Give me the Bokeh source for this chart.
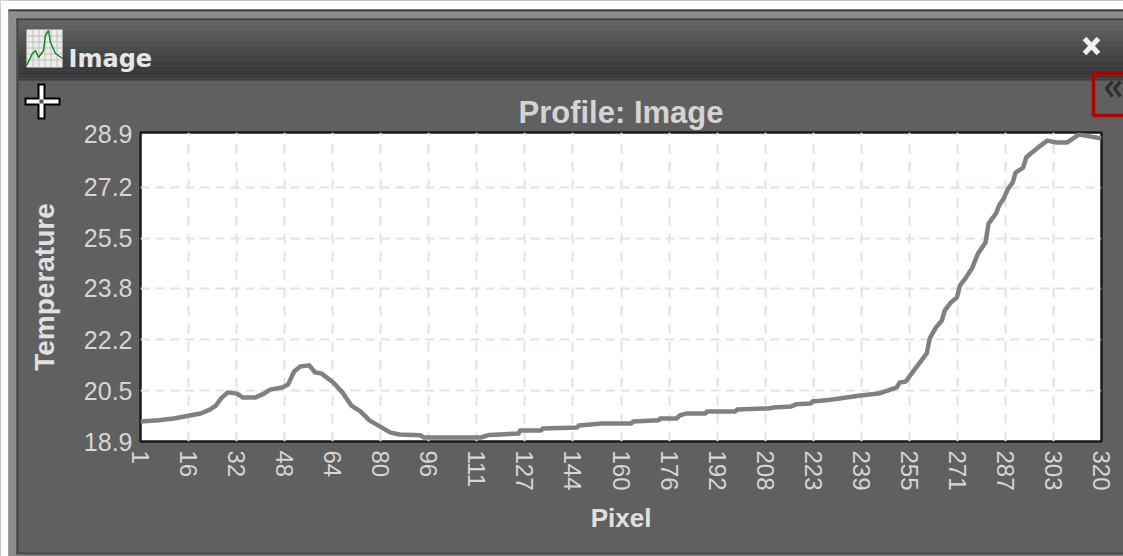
from bokeh.plotting import figure
from bokeh.embed import file_html
from bokeh.resources import INLINE
from bokeh.core.properties import value
from bokeh.models import FixedTicker, Range1d

# ---- data
pixel = [1, 7, 12, 16, 21, 24, 26, 28, 30, 33, 35, 39, 42, 44, 48, 50, 52, 54, 57, 59, 61, 65, 68, 71, 74, 77, 81, 84, 87, 94, 95,
         114, 116.5, 126.5, 127, 134, 134.5, 146, 146.5, 154, 164, 164.5, 173, 173.5, 179, 180, 182, 188.5, 189, 198.5, 199,
         210, 211, 217, 218.5, 223.5, 224, 228.5, 233, 240, 246, 249, 252, 253, 255, 257, 259, 262, 263, 265, 267, 268, 270,
         272, 273, 275, 277, 279, 281.5, 282.5, 285, 286, 287.5, 289, 290.5, 291.5, 294, 295, 296.5, 299, 302, 305, 308.5,
         310.5, 312.5, 316, 320]
temperature = [19.50, 19.54, 19.60, 19.67, 19.76, 19.89, 20.02, 20.28, 20.45, 20.41, 20.28, 20.28, 20.41, 20.54, 20.61, 20.71, 21.13,
               21.29, 21.33, 21.10, 21.07, 20.77, 20.45, 20.02, 19.83, 19.54, 19.31, 19.14, 19.08, 19.05, 18.98,
               18.98, 19.06, 19.11, 19.21, 19.21, 19.27, 19.31, 19.37, 19.44, 19.44, 19.50, 19.54, 19.60, 19.60, 19.70, 19.76, 19.76, 19.83, 19.83, 19.89,
               19.93, 19.96, 19.99, 20.06, 20.09, 20.15, 20.19, 20.25, 20.35, 20.41, 20.51, 20.61, 20.77, 20.80, 21.07, 21.33, 21.72, 22.21, 22.56, 22.79, 23.12, 23.38,
               23.54, 23.93, 24.19, 24.49, 24.97, 25.33, 25.95, 26.28, 26.54, 26.76, 27.09, 27.28, 27.61, 27.77, 28.10, 28.23, 28.43, 28.65, 28.59, 28.59,
               28.72, 28.85, 28.79, 28.72]
x_ticks = [1, 16.95, 32.9, 48.85, 64.8, 80.75, 96.7, 112.65, 128.6, 144.55, 160.5, 176.45, 192.4, 208.35, 224.3, 240.25, 256.2, 272.15, 288.1, 304.05, 320]
x_labels = ["1", "16", "32", "48", "64", "80", "96", "111", "127", "144", "160", "176", "192", "208", "223", "239", "255", "271", "287", "303", "320"]
y_ticks = [18.85, 20.51, 22.17, 23.84, 25.47, 27.13, 28.86]
y_labels = ["18.9", "20.5", "22.2", "23.8", "25.5", "27.2", "28.9"]
y_grid = [20.51, 22.17, 23.84, 25.47, 27.13]

W, H = 1123, 556

# ---- window chrome: a figure whose frame is the whole page, y running downward
win = figure(width=W, height=H, output_backend="svg", toolbar_location=None,
             x_range=Range1d(0, W), y_range=Range1d(H, 0),
             min_border=0, min_border_left=0, min_border_right=0, min_border_top=0, min_border_bottom=0)
win.axis.visible = False
win.grid.visible = False
win.outline_line_color = None
win.background_fill_color = "#606060"
win.border_fill_color = "#ffffff"


def box(l, t, r, b, fill, line=None, lw=0):
    win.quad(left=[l], right=[r], top=[t], bottom=[b], fill_color=fill,
             fill_alpha=1 if fill else 0, line_color=line, line_width=lw)


def path(pts, color, lw):
    win.line([a for a, _ in pts], [b for _, b in pts], line_color=color, line_width=lw)


box(0, 0, 1123, 9, "#ffffff")
box(0, 0, 8, 556, "#ffffff")
box(8, 9, 1123, 11, "#3a3a3a")
box(8, 11, 1123, 18, "#8c8c8c")
box(8, 11, 16, 556, "#8c8c8c")
box(16, 18, 18, 553, "#444444")
box(16, 18, 1123, 20, "#444444")
box(16, 552, 1123, 554, "#444444")
box(16, 554, 1123, 556, "#808080")

bands = ["#646464", "#5f5f5f", "#5a5a5a", "#555555", "#505050", "#4c4c4c", "#474747", "#434343", "#3f3f3f", "#3b3b3b", "#383838", "#353535"]
for i, c in enumerate(bands):
    box(18, 20 + i * 5, 1123, 25 + i * 5, c)
box(18, 77, 1123, 79, "#4a4a4a")

# title-bar icon
box(26, 29, 62, 67, "#ececec")
for gx in (32, 38, 44, 50, 56):
    box(gx, 29, gx + 1, 67, "#bdbdbd")
for gy in (35, 41, 47, 53, 59):
    box(26, gy, 62, gy + 1, "#bdbdbd")
path([(26, 65), (32, 53), (35, 50), (38, 57), (43, 50), (45, 35), (48, 30), (50, 42), (55, 53), (62, 58)], "#0d8a1c", 1.5)

win.text([68], [58], text=["Image"], text_font=value("DejaVu Sans"), text_font_style="bold",
         text_font_size="24px", text_color="#e6e6e6", text_baseline="alphabetic")

# close icon
path([(1084, 38), (1098, 53)], "#f0f0f0", 5)
path([(1098, 38), (1084, 53)], "#f0f0f0", 5)

# crosshair icon
box(37, 83, 45, 119, "#000000")
box(24, 97, 60, 105, "#000000")
box(39, 85, 43, 117, "#ffffff")
box(26, 99, 58, 103, "#ffffff")
box(39, 99, 43, 103, "#555555")

# collapse button
box(1093, 73, 1125, 115, None, "#b00000", 3.5)
path([(1112, 81), (1106, 88), (1112, 96)], "#2e2e2e", 3.5)
path([(1120, 81), (1114, 88), (1120, 96)], "#2e2e2e", 3.5)

# ---- the chart, laid over the chrome with a transparent border
p = figure(width=W, height=H, output_backend="svg", toolbar_location=None,
           x_range=Range1d(1, 320), y_range=Range1d(18.85, 28.916),
           min_border_left=140, min_border_right=22, min_border_top=132, min_border_bottom=115,
           title="Profile: Image", styles={"position": "absolute", "left": "0px", "top": "0px"})
p.border_fill_color = None
p.background_fill_color = "#ffffff"
p.outline_line_color = "#1a1a1a"
p.outline_line_width = 2.5

p.title.align = "center"
p.title.text_font = "Liberation Sans"
p.title.text_font_size = "31px"
p.title.text_font_style = "bold"
p.title.text_color = "#d4d4d4"
p.title.standoff = 6

for ax in (p.xaxis[0], p.yaxis[0]):
    ax.axis_line_color = None
    ax.major_tick_line_color = None
    ax.minor_tick_line_color = None
    ax.major_tick_out = 0
    ax.major_tick_in = 0
    ax.minor_tick_out = 0
    ax.major_label_text_font = "Liberation Sans"
    ax.major_label_text_color = "#d6d6d6"
    ax.axis_label_text_font = "Liberation Sans"
    ax.axis_label_text_font_style = "bold"
    ax.axis_label_text_color = "#e0e0e0"

p.xaxis[0].axis_label = "Pixel"
p.xaxis[0].axis_label_text_font_size = "26px"
p.xaxis[0].ticker = FixedTicker(ticks=x_ticks)
p.xaxis[0].major_label_overrides = dict(zip(x_ticks, x_labels))
p.xaxis[0].major_label_orientation = "vertical"
p.xaxis[0].major_label_text_font_size = "24px"
p.xaxis[0].major_label_standoff = 9
p.xaxis[0].axis_label_standoff = 9

p.yaxis[0].axis_label = "Temperature"
p.yaxis[0].axis_label_text_font_size = "28px"
p.yaxis[0].ticker = FixedTicker(ticks=y_ticks)
p.yaxis[0].major_label_overrides = dict(zip(y_ticks, y_labels))
p.yaxis[0].major_label_text_font_size = "25px"
p.yaxis[0].major_label_standoff = 8
p.yaxis[0].axis_label_standoff = 21

p.xgrid[0].ticker = FixedTicker(ticks=x_ticks[1:-1])
p.xgrid[0].grid_line_color = "#cfe5fb"
p.xgrid[0].grid_line_width = 2
p.xgrid[0].grid_line_dash = "10 8"
p.ygrid[0].ticker = FixedTicker(ticks=y_grid)
p.ygrid[0].grid_line_color = "#eedcdc"
p.ygrid[0].grid_line_width = 2
p.ygrid[0].grid_line_dash = "9 6"

p.line(pixel, temperature, line_color="#808080", line_width=4.5, line_join="round")

open("out.html", "w").write(file_html([win, p], INLINE))
